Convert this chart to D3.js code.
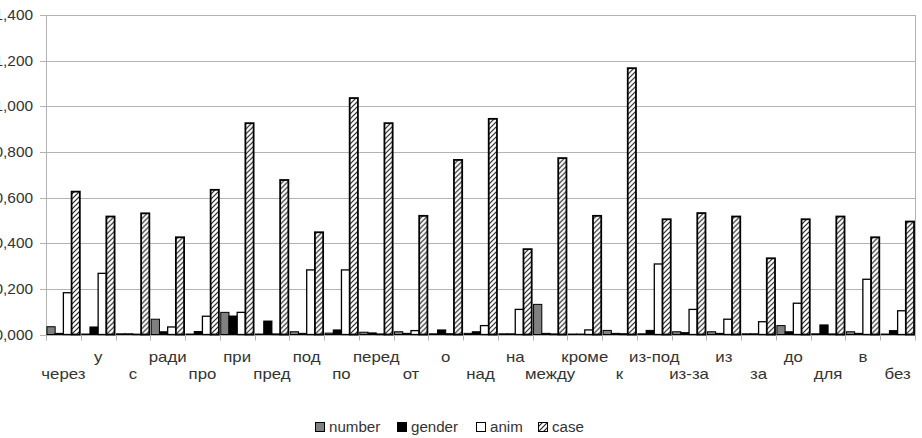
<!DOCTYPE html>
<html>
<head>
<meta charset="utf-8">
<script src="https://cdn.jsdelivr.net/npm/d3@7"></script>
<style>
  body { margin: 0; background: #fff; }
  svg text { font-family: "Liberation Sans", Arial, sans-serif; }
</style>
</head>
<body>
<svg id="chart" width="922" height="438"></svg>
<script>
const categories = ["через", "у", "с", "ради", "про", "при", "пред", "под", "по", "перед",
  "от", "о", "над", "на", "между", "кроме", "к", "из-под", "из-за", "из",
  "за", "до", "для", "в", "без"];

const numberVals = [0.034, 0.002, 0.003, 0.067, 0.002, 0.097, 0.002, 0.012, 0.006, 0.010,
  0.012, 0.003, 0.005, 0.003, 0.132, 0.002, 0.018, 0.003, 0.012, 0.012,
  0.003, 0.039, 0.003, 0.012, 0.002];
const genderVals = [0.005, 0.033, 0.003, 0.012, 0.013, 0.081, 0.059, 0.005, 0.020, 0.007,
  0.005, 0.020, 0.012, 0.003, 0.005, 0.002, 0.005, 0.018, 0.008, 0.005,
  0.003, 0.012, 0.042, 0.005, 0.017];
const animVals = [0.183, 0.268, 0.001, 0.033, 0.080, 0.097, 0.002, 0.283, 0.283, 0.002,
  0.017, 0.003, 0.039, 0.110, 0.002, 0.020, 0.003, 0.309, 0.110, 0.067,
  0.056, 0.137, 0.002, 0.242, 0.104];
const caseVals = [0.626, 0.517, 0.531, 0.426, 0.634, 0.926, 0.677, 0.448, 1.036, 0.926,
  0.520, 0.765, 0.945, 0.374, 0.773, 0.520, 1.167, 0.505, 0.532, 0.517,
  0.334, 0.505, 0.517, 0.426, 0.495];

const seriesNames = ["number", "gender", "anim", "case"];
const yTicks = [0, 0.2, 0.4, 0.6, 0.8, 1.0, 1.2, 1.4];

const series = [numberVals, genderVals, animVals, caseVals];
const rows = categories.map((c, i) => ({ cat: c, vals: series.map(s => s[i]) }));

const plotL = 46, plotR = 915, plotT = 15, plotB = 334.5;
const svg = d3.select("#chart");

// hatch for "case"
const defs = svg.append("defs");
const pat = defs.append("pattern")
  .attr("id", "hatch")
  .attr("patternUnits", "userSpaceOnUse")
  .attr("width", 5).attr("height", 5);
pat.append("rect").attr("width", 5).attr("height", 5).attr("fill", "#fff");
pat.append("path")
  .attr("d", "M-1,1 l2,-2 M0,5 l5,-5 M4,6 l2,-2")
  .attr("stroke", "#222").attr("stroke-width", 1.2);

const fills = ["#808080", "#000", "#fff", "url(#hatch)"];
const strokeW = [1, 1, 1.3, 1.8];

const x = d3.scaleBand().domain(categories).range([plotL, plotR]).paddingInner(0).paddingOuter(0);
const xs = d3.scaleBand().domain(seriesNames).range([0, x.bandwidth()]).paddingInner(0).paddingOuter(0.115);
const y = d3.scaleLinear().domain([0, 1.4]).range([plotB, plotT]);

// gridlines
svg.append("g").selectAll("line")
  .data(yTicks)
  .join("line")
  .attr("x1", plotL - 6).attr("x2", plotR)
  .attr("y1", d => Math.round(y(d)) + 0.5).attr("y2", d => Math.round(y(d)) + 0.5)
  .attr("stroke", "#b3b3b3").attr("stroke-width", 1);

// frame lines
svg.append("line").attr("x1", plotL + 0.5).attr("x2", plotL + 0.5)
  .attr("y1", plotT).attr("y2", plotB + 6).attr("stroke", "#b3b3b3");
svg.append("line").attr("x1", plotR + 0.5).attr("x2", plotR + 0.5)
  .attr("y1", plotT).attr("y2", plotB).attr("stroke", "#b3b3b3");

// x tick marks at category boundaries
svg.append("g").selectAll("line")
  .data(categories)
  .join("line")
  .attr("x1", d => Math.round(x(d) + x.bandwidth()) + 0.5)
  .attr("x2", d => Math.round(x(d) + x.bandwidth()) + 0.5)
  .attr("y1", plotB).attr("y2", plotB + 6)
  .attr("stroke", "#b3b3b3");

// y labels (leading digit runs off the left edge, as in the picture)
svg.append("g").selectAll("text")
  .data(yTicks)
  .join("text")
  .attr("transform", d => `translate(33,${y(d) + 5}) scale(1.1,1)`)
  .attr("text-anchor", "end")
  .attr("font-size", 14)
  .attr("fill", "#333")
  .text(d => d3.format(".3f")(d).replace(".", ","));

// bars
const groups = svg.append("g").selectAll("g")
  .data(rows)
  .join("g")
  .attr("transform", d => `translate(${x(d.cat)},0)`);

groups.selectAll("rect")
  .data(d => d.vals.map((v, k) => ({ v, k })))
  .join("rect")
  .attr("x", d => xs(seriesNames[d.k]))
  .attr("width", xs.bandwidth())
  .attr("y", d => y(d.v))
  .attr("height", d => plotB - y(d.v))
  .attr("fill", d => fills[d.k])
  .attr("stroke", "#000")
  .attr("stroke-width", d => strokeW[d.k]);

// category labels, two staggered rows
svg.append("g").selectAll("text")
  .data(categories)
  .join("text")
  .attr("transform", (d, i) =>
    `translate(${x(d) + x.bandwidth() / 2},${i % 2 === 0 ? 379 : 362}) scale(1.2,1)`)
  .attr("text-anchor", "middle")
  .attr("font-size", 14)
  .attr("fill", "#333")
  .text(d => d);

// legend
const legendX = [315, 397, 476, 538];
const leg = svg.append("g").selectAll("g")
  .data(seriesNames)
  .join("g")
  .attr("transform", (d, i) => `translate(${legendX[i]},422)`);
leg.append("rect")
  .attr("x", 0.5).attr("y", 0.5)
  .attr("width", 9).attr("height", 9)
  .attr("fill", (d, i) => fills[i])
  .attr("stroke", "#000").attr("stroke-width", 1);
leg.append("text")
  .attr("transform", "translate(14,10) scale(1.08,1)")
  .attr("font-size", 14)
  .attr("fill", "#333")
  .text(d => d);
</script>
</body>
</html>
